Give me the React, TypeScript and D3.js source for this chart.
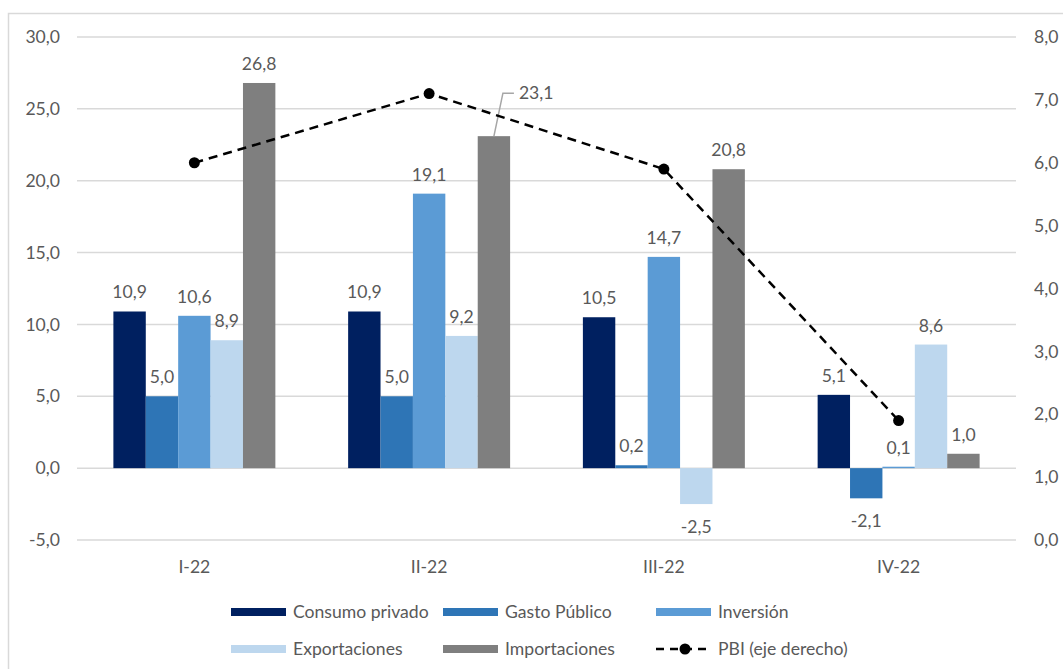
import React from "react";
import * as d3 from "d3";

const categories = ["I-22", "II-22", "III-22", "IV-22"];
const seriesNames = ["Consumo privado", "Gasto Público", "Inversión", "Exportaciones", "Importaciones"];
const consumoPrivado = [10.9, 10.9, 10.5, 5.1];
const gastoPublico = [5.0, 5.0, 0.2, -2.1];
const inversion = [10.6, 19.1, 14.7, 0.1];
const exportaciones = [8.9, 9.2, -2.5, 8.6];
const importaciones = [26.8, 23.1, 20.8, 1.0];
const pbi = [6.0, 7.1, 5.9, 1.9];
const leftTicks = [-5, 0, 5, 10, 15, 20, 25, 30];
const rightTicks = [0, 1, 2, 3, 4, 5, 6, 7, 8];
const colors = ["#002060", "#2E75B6", "#5B9BD5", "#BDD7EE", "#7F7F7F"];

const FONT = "Lato, 'Open Sans', sans-serif";
const TXT = "#595959";
const FS = 17.6;

export default function App() {
  const series = [consumoPrivado, gastoPublico, inversion, exportaciones, importaciones];
  const left = 77, right = 1016;
  const yL = d3.scaleLinear().domain([-5, 30]).range([540, 37]);
  const yR = d3.scaleLinear().domain([0, 8]).range([540, 37]);
  const x0 = d3.scaleBand().domain(categories).range([left, right]).paddingInner(0).paddingOuter(0);
  const groupW = x0.bandwidth() * 0.69;
  const x1 = d3.scaleBand().domain(seriesNames).range([0, groupW]).padding(0);
  const fmt = (v: number) => v.toFixed(1).replace(".", ",");
  const cx = (c: string) => (x0(c) as number) + x0.bandwidth() / 2;

  const line = d3.line<number>().x((_, i) => cx(categories[i])).y((v) => yR(v));

  const legendRows = [
    [{ t: "rect", i: 0, x: 231 }, { t: "rect", i: 1, x: 443 }, { t: "rect", i: 2, x: 656 }],
    [{ t: "rect", i: 3, x: 231 }, { t: "rect", i: 4, x: 443 }, { t: "line", i: 5, x: 656 }],
  ];
  const legendY = [612, 649];

  return (
    <svg width={1063} height={669} style={{ position: "absolute", left: 0, top: 0, background: "#fff" }}
      fontFamily={FONT}>
      <rect x={8.5} y={13.5} width={1100} height={700} fill="#fff" stroke="#D9D9D9" strokeWidth={1.5} />
      {leftTicks.map((t) => (
        <g key={t}>
          <line x1={left} x2={right} y1={yL(t)} y2={yL(t)} stroke="#D9D9D9" strokeWidth={1.5} />
          <text x={60} y={yL(t)} dy="0.35em" textAnchor="end" fontSize={FS} fill={TXT}>{fmt(t)}</text>
        </g>
      ))}
      {rightTicks.map((t) => (
        <text key={t} x={1034} y={yR(t)} dy="0.35em" textAnchor="start" fontSize={FS} fill={TXT}>{fmt(t)}</text>
      ))}
      {categories.map((c, ci) => {
        const gx = cx(c) - groupW / 2;
        return (
          <g key={c}>
            {series.map((s, si) => {
              const v = s[ci];
              const bx = gx + (x1(seriesNames[si]) as number);
              const bw = x1.bandwidth();
              const y = v >= 0 ? yL(v) : yL(0);
              const h = Math.abs(yL(v) - yL(0));
              return <rect key={si} x={bx} y={y} width={bw} height={h} fill={colors[si]} />;
            })}
            <text x={cx(c)} y={573} textAnchor="middle" fontSize={FS} fill={TXT}>{c}</text>
          </g>
        );
      })}
      {categories.map((c, ci) => {
        const gx = cx(c) - groupW / 2;
        return series.map((s, si) => {
          const v = s[ci];
          const bw = x1.bandwidth();
          const bcx = gx + (x1(seriesNames[si]) as number) + bw / 2;
          if (ci === 1 && si === 4) {
            const top = yL(v);
            return (
              <g key={`l${ci}${si}`}>
                <polyline points={`${bcx},${top} ${bcx + 9},${top - 43} ${bcx + 20},${top - 43}`}
                  fill="none" stroke="#A6A6A6" strokeWidth={1.5} />
                <text x={bcx + 25} y={top - 43} dy="0.35em" fontSize={FS} fill={TXT}>{fmt(v)}</text>
              </g>
            );
          }
          const ty = v >= 0 ? yL(v) - 13 : yL(v) + 29;
          return (
            <text key={`l${ci}${si}`} x={bcx} y={ty} textAnchor="middle" fontSize={FS} fill={TXT}>{fmt(v)}</text>
          );
        });
      })}
      <path d={line(pbi) as string} fill="none" stroke="#000" strokeWidth={2.5} strokeDasharray="9,6" />
      {pbi.map((v, i) => (
        <circle key={i} cx={cx(categories[i])} cy={yR(v)} r={5.5} fill="#000" />
      ))}
      {legendRows.map((row, ri) =>
        row.map((it) => (
          <g key={`${ri}-${it.i}`}>
            {it.t === "rect" ? (
              <rect x={it.x} y={legendY[ri] - 4} width={55} height={8} fill={colors[it.i]} />
            ) : (
              <g>
                <line x1={it.x} x2={it.x + 55} y1={legendY[ri]} y2={legendY[ri]} stroke="#000" strokeWidth={2.5} strokeDasharray="8,6" />
                <circle cx={it.x + 29} cy={legendY[ri]} r={5.5} fill="#000" />
              </g>
            )}
            <text x={it.x + 62} y={legendY[ri]} dy="0.35em" fontSize={FS} fill={TXT}>
              {it.t === "rect" ? seriesNames[it.i] : "PBI (eje derecho)"}
            </text>
          </g>
        ))
      )}
    </svg>
  );
}
